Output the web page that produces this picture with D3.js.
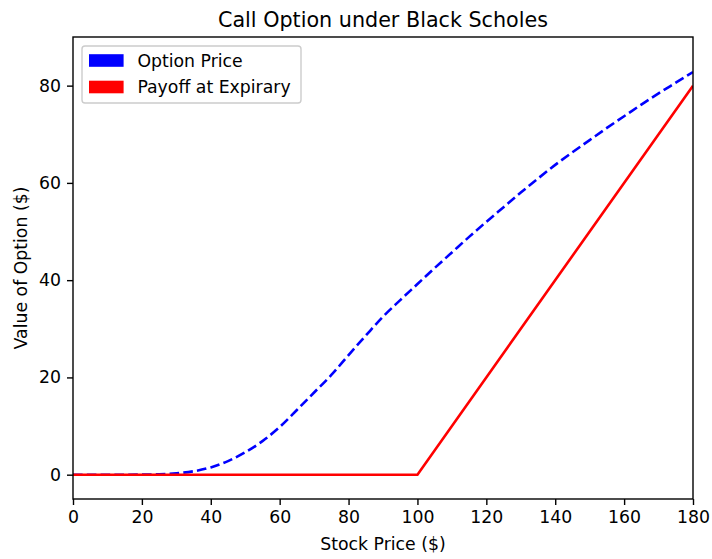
<!DOCTYPE html>
<html>
<head>
<meta charset="utf-8">
<script src="https://cdn.jsdelivr.net/npm/d3@7"></script>
<style>
  html, body { margin: 0; padding: 0; background: #fff; }
  svg { display: block; font-family: "DejaVu Sans", sans-serif; }
</style>
</head>
<body>
<svg id="chart" width="712" height="559"></svg>
<script>
// ---- data ----
const stockPrices = [0,5,10,15,20,25,30,35,40,45,50,55,60,65,70,75,80,85,90,95,100,105,110,115,120,125,130,135,140,145,150,155,160,165,170,175,180];
const optionPrice = [0,0,0,0,0.02,0.08,0.28,0.7,1.5,2.8,4.6,6.9,9.8,13.3,16.9,20.5,24.6,28.6,32.5,35.9,39.2,42.5,45.7,48.9,52.0,55.0,58.0,60.9,63.7,66.3,68.8,71.3,73.7,76.1,78.4,80.6,82.8];
const payoffPrices = [0,100,180];
const payoffValues = [0,0,80];
const xTicks = [0,20,40,60,80,100,120,140,160,180];
const yTicks = [0,20,40,60,80];
const seriesNames = ["Option Price","Payoff at Expirary"];
const seriesColors = ["#0000ff","#ff0000"];
const titleText = "Call Option under Black Scholes";
const xLabel = "Stock Price ($)";
const yLabel = "Value of Option ($)";

// ---- layout ----
const L = 73, R = 693, T = 37, B = 499;
const svg = d3.select("#chart");
const x = d3.scaleLinear().domain([0,180]).range([L,R]);
const y = d3.scaleLinear().domain([-5,90]).range([B,T]);
const fs = 17.3;

svg.append("defs").append("clipPath").attr("id","clip")
  .append("rect").attr("x",L).attr("y",T).attr("width",R-L).attr("height",B-T);

const optData = stockPrices.map((s,i)=>[s,optionPrice[i]]);
const payData = payoffPrices.map((s,i)=>[s,payoffValues[i]]);

const line = d3.line().x(d=>x(d[0])).y(d=>y(d[1])).curve(d3.curveMonotoneX);
const lineLin = d3.line().x(d=>x(d[0])).y(d=>y(d[1]));

const plot = svg.append("g").attr("clip-path","url(#clip)");
plot.append("path").datum(optData).attr("d",line)
  .attr("fill","none").attr("stroke",seriesColors[0]).attr("stroke-width",2.6)
  .attr("stroke-dasharray","9.6,4.2");
plot.append("path").datum(payData).attr("d",lineLin)
  .attr("fill","none").attr("stroke",seriesColors[1]).attr("stroke-width",2.6)
  .attr("stroke-linejoin","miter");

// axes
const xAxis = d3.axisBottom(x).tickValues(xTicks).tickSize(6).tickPadding(6).tickSizeOuter(0);
const yAxis = d3.axisLeft(y).tickValues(yTicks).tickSize(6).tickPadding(6).tickSizeOuter(0);
const gx = svg.append("g").attr("transform",`translate(0,${B})`).call(xAxis);
const gy = svg.append("g").attr("transform",`translate(${L},0)`).call(yAxis);
[gx,gy].forEach(g=>{
  g.select(".domain").remove();
  g.selectAll(".tick line").attr("stroke","#000").attr("stroke-width",1.4);
  g.selectAll(".tick text").attr("fill","#000").style("font-size",fs+"px").style("font-family","DejaVu Sans");
});

// frame
svg.append("rect").attr("x",L).attr("y",T).attr("width",R-L).attr("height",B-T)
  .attr("fill","none").attr("stroke","#000").attr("stroke-width",1.4);

// title & labels
svg.append("text").attr("x",(L+R)/2).attr("y",27).attr("text-anchor","middle")
  .style("font-size","20.7px").attr("fill","#000").text(titleText);
svg.append("text").attr("x",(L+R)/2).attr("y",550).attr("text-anchor","middle")
  .style("font-size",fs+"px").attr("fill","#000").text(xLabel);
svg.append("text").attr("transform",`translate(27,${(T+B)/2}) rotate(-90)`).attr("text-anchor","middle")
  .style("font-size",fs+"px").attr("fill","#000").text(yLabel);

// legend
const lg = svg.append("g");
lg.append("rect").attr("x",82).attr("y",46).attr("width",219).attr("height",57)
  .attr("rx",3).attr("fill","#fff").attr("fill-opacity",0.8)
  .attr("stroke","#cccccc").attr("stroke-width",1.4);
seriesNames.forEach((n,i)=>{
  const cy = 60.5 + i*26.5;
  lg.append("rect").attr("x",89).attr("y",cy-6.3).attr("width",34.6).attr("height",12.6)
    .attr("fill",seriesColors[i]);
  lg.append("text").attr("x",137.4).attr("y",cy).attr("dy","0.36em")
    .style("font-size",fs+"px").attr("fill","#000").text(n);
});
</script>
</body>
</html>
